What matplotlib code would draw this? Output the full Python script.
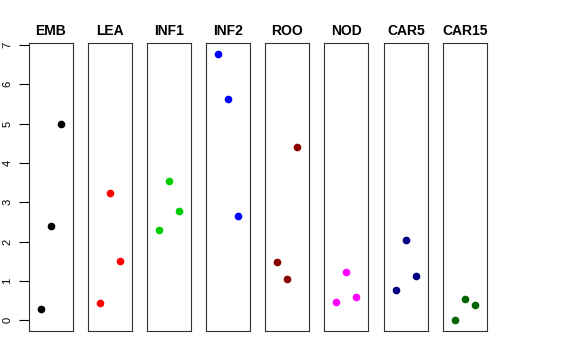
import numpy as np
import matplotlib
matplotlib.use("Agg")
import matplotlib.pyplot as plt

plt.rcParams['font.family'] = ['Liberation Sans', 'DejaVu Sans']

# panel names and colours
tissues = ["EMB", "LEA", "INF1", "INF2", "ROO", "NOD", "CAR5", "CAR15"]
colours = ["black", "red", "#00CD00", "blue", "#8B0000", "magenta", "#000080", "#006400"]

# three values per panel, at x = 1, 2, 3
emb = [0.29, 2.40, 4.98]
lea = [0.45, 3.23, 1.52]
inf1 = [2.30, 3.53, 2.79]
inf2 = [6.78, 5.62, 2.65]
roo = [1.48, 1.06, 4.41]
nod = [0.46, 1.22, 0.60]
car5 = [0.76, 2.05, 1.13]
car15 = [0.0, 0.55, 0.39]
values = [emb, lea, inf1, inf2, roo, nod, car5, car15]
xpos = [1, 2, 3]
yticks = [0, 1, 2, 3, 4, 5, 6, 7]

W, H = 576, 360
fig = plt.figure(figsize=(W / 100, H / 100), dpi=100)

lefts = [29, 88, 147, 206, 265, 324, 384, 443]
pw = 44
top, bottom = 43, 331

allv = np.concatenate(values)
lo, hi = allv.min(), allv.max()
pad = (hi - lo) * 0.04

for i, (name, col, vals) in enumerate(zip(tissues, colours, values)):
    ax = fig.add_axes([lefts[i] / W, 1 - bottom / H, pw / W, (bottom - top) / H])
    ax.plot(xpos, vals, 'o', color=col, ms=4.5, mec=col)
    ax.set_xlim(-0.16, 4.16)
    ax.set_ylim(lo - pad, hi + pad)
    ax.set_xticks([])
    for s in ax.spines.values():
        s.set_linewidth(0.8)
        s.set_color("#333333")
    ax.set_title(name, fontsize=10, fontweight='bold', pad=6)
    if i == 0:
        ax.set_yticks(yticks)
        ax.set_yticklabels([str(t) for t in yticks], rotation=90, va='center', fontsize=8)
        ax.tick_params(axis='y', length=7, width=0.8, pad=5)
    else:
        ax.set_yticks([])

fig.savefig("out.png", dpi=100)
